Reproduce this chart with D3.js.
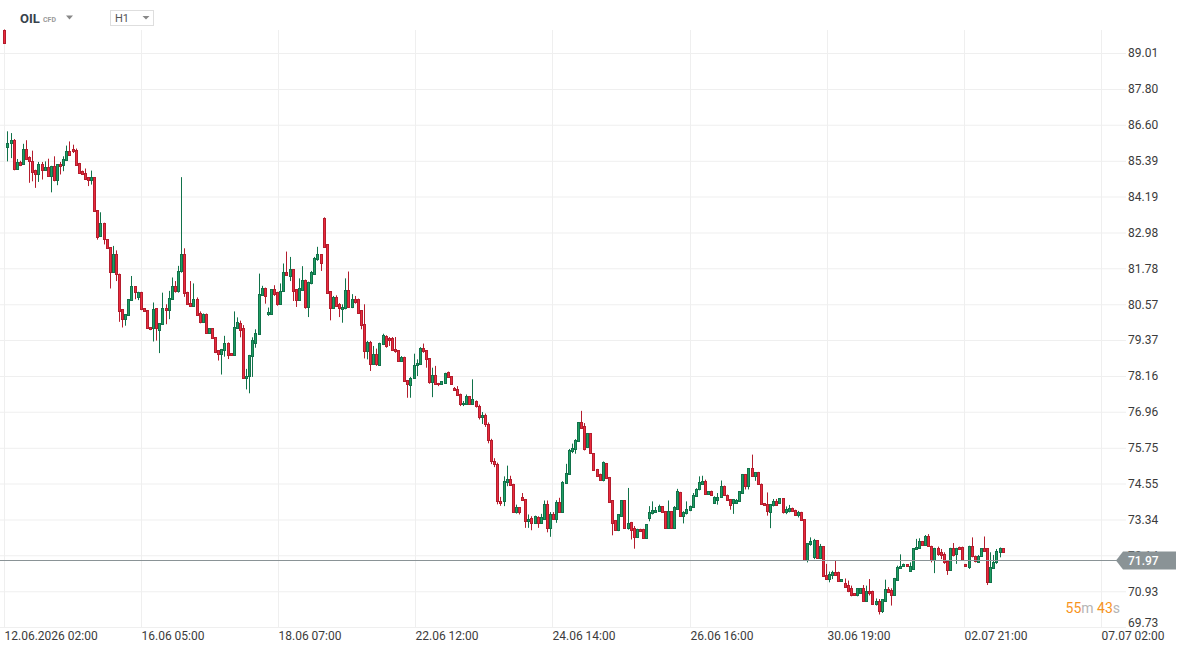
<!DOCTYPE html>
<html>
<head>
<meta charset="utf-8">
<script src="https://cdn.jsdelivr.net/npm/d3@7"></script>
<style>
  body { margin: 0; background: #fff; font-family: Roboto, "Noto Sans", sans-serif; }
  svg { display: block; }
  .grid line { stroke: #efefef; }
  .grid path { display: none; }
  .yaxis text, .xaxis text { fill: #3b3b3b; font-size: 12px; font-family: Roboto, sans-serif; }
</style>
</head>
<body>
<svg id="chart" width="1188" height="653"></svg>
<script>
// hourly OIL candles
var opens = [89.79,85.84,85.99,86.10,85.12,85.35,85.28,85.80,85.52,85.39,
85.09,84.93,85.28,85.09,85.17,84.87,85.22,84.73,85.28,85.26,
85.43,85.73,85.80,85.76,85.32,85.06,84.98,84.84,84.76,84.84,
83.72,82.86,83.29,82.75,82.49,81.67,82.25,81.60,80.41,80.07,
80.22,80.71,81.17,80.82,80.99,80.43,80.37,79.79,79.77,80.43,
79.70,79.90,80.46,80.37,80.74,81.19,81.02,81.69,82.25,80.99,
80.60,80.52,80.74,80.27,79.99,80.26,79.62,79.77,79.46,79.03,
78.90,79.03,79.27,78.92,78.87,79.77,79.93,79.77,78.08,78.15,
78.82,79.28,79.58,80.88,81.13,80.26,80.26,81.07,80.99,80.57,
81.00,81.67,81.52,81.74,81.07,80.73,81.06,81.40,80.48,81.30,
81.60,82.08,82.25,83.46,82.59,81.00,80.46,80.83,80.57,80.42,
80.46,81.06,80.49,80.76,80.74,80.37,79.90,79.00,79.31,78.57,
78.91,78.53,79.23,79.51,79.45,79.43,79.08,79.02,78.66,78.81,
78.01,77.86,78.08,78.53,78.57,79.11,79.02,78.75,77.96,78.18,
77.93,77.90,77.93,78.31,78.16,77.75,77.71,77.57,77.21,77.23,
77.49,77.23,77.32,77.15,76.80,76.85,76.55,76.00,75.30,75.20,
73.95,73.95,74.59,74.71,74.54,73.59,73.76,74.10,74.03,73.28,
73.40,73.23,73.43,73.23,73.36,73.87,73.06,73.51,73.36,73.93,
73.59,74.57,74.88,75.63,75.71,75.97,76.61,76.49,75.76,76.24,
75.57,75.04,74.88,74.66,75.24,74.77,73.99,73.31,72.98,73.47,
73.98,73.06,73.26,73.06,72.75,73.03,73.03,72.73,73.40,73.56,
73.59,73.62,73.79,73.62,73.06,73.62,73.06,73.70,74.27,73.45,
73.56,73.67,73.76,74.12,74.35,74.55,74.65,74.20,74.31,73.90,
74.01,74.10,74.48,74.18,74.03,73.88,73.88,73.95,74.23,74.87,
74.48,75.07,74.81,74.92,74.55,73.89,73.86,73.60,73.83,73.95,
73.91,74.05,73.60,73.63,73.74,73.67,73.49,73.60,73.35,71.98,
72.52,72.07,72.64,72.04,72.44,71.48,71.34,71.46,71.59,71.59,
71.26,71.20,71.14,71.03,70.87,70.79,70.87,71.03,70.62,70.95,
70.95,70.51,70.59,70.28,70.62,71.01,70.96,70.81,71.32,71.70,
71.77,71.84,71.62,71.68,72.35,72.37,72.62,72.50,72.80,72.46,
71.98,72.39,72.26,72.18,71.96,71.66,72.38,72.19,72.43,72.43,
71.85,71.76,72.46,72.13,71.92,72.10,72.37,72.37,71.25,71.70,
71.90,72.26,72.37];

var highs = [89.80,86.38,86.32,86.12,85.45,85.39,85.96,86.08,85.54,85.73,
85.09,85.35,85.35,85.37,85.46,85.22,85.54,85.28,85.35,85.54,
85.90,86.04,85.93,85.80,85.32,85.06,85.13,84.84,85.06,84.84,
83.72,83.66,83.31,82.75,82.49,82.53,82.38,81.60,80.41,80.24,
80.74,81.52,81.17,80.99,80.99,80.43,80.37,79.79,80.63,80.43,
79.93,80.96,80.57,81.02,81.47,81.35,81.86,84.84,82.45,80.99,
81.35,81.27,80.80,80.33,80.26,80.26,79.77,79.77,79.46,79.03,
79.07,79.51,79.29,78.92,80.33,80.13,80.02,79.87,78.40,78.87,
79.46,79.73,81.60,81.19,81.13,80.46,81.07,81.21,80.99,81.27,
81.94,82.34,82.16,81.74,81.07,81.44,81.85,81.40,81.33,81.69,
82.16,82.50,82.25,83.49,82.59,81.00,80.85,80.87,80.61,80.57,
81.44,81.67,80.91,80.85,80.76,80.37,80.57,79.34,79.34,79.17,
79.08,79.28,79.58,79.53,79.47,79.47,79.47,79.02,78.83,78.81,
78.01,78.13,78.91,78.72,79.13,79.25,79.02,78.75,78.44,78.50,
77.93,77.99,78.27,78.31,78.16,77.79,77.82,77.57,77.32,77.54,
77.49,78.05,77.34,77.20,76.95,76.90,76.60,76.05,75.40,75.25,
74.10,74.79,75.15,74.81,74.54,73.84,73.76,74.23,74.03,73.51,
73.45,73.47,73.45,73.53,73.98,73.98,73.59,73.59,73.99,74.07,
74.63,75.21,75.71,75.89,76.04,76.61,76.99,76.58,76.24,76.24,
75.57,75.04,74.88,75.29,75.24,74.77,73.99,73.31,73.51,73.98,
73.98,74.40,73.26,73.12,73.03,73.03,73.03,73.19,73.79,73.95,
73.76,73.84,73.79,73.62,73.98,73.62,73.79,74.37,74.27,73.62,
73.95,73.81,74.23,74.39,74.79,74.81,74.68,74.29,74.31,74.12,
74.23,74.65,74.48,74.18,74.03,74.03,74.03,74.29,74.87,74.87,
75.07,75.52,74.92,74.94,74.55,73.89,74.25,73.86,74.03,74.03,
74.05,74.05,73.78,73.83,73.74,73.67,73.63,73.60,73.35,72.54,
72.74,72.69,72.64,72.52,72.44,71.85,71.59,71.62,71.96,71.59,
71.34,71.36,71.29,71.12,70.87,71.03,71.03,71.14,71.12,71.34,
70.95,70.69,70.67,70.67,71.32,71.07,71.03,71.38,71.79,72.17,
71.86,71.84,71.90,72.37,72.69,72.71,72.62,72.82,72.85,72.46,
72.39,72.43,72.35,72.24,71.96,72.39,72.55,72.39,72.43,72.43,
71.85,72.46,72.74,72.13,72.15,72.37,72.77,72.37,72.24,72.15,
72.35,72.40,72.37];

var lows = [89.33,85.37,85.48,85.07,85.09,85.21,85.28,85.43,84.65,84.70,
84.48,84.68,84.76,85.07,84.87,84.33,84.70,84.57,84.93,85.04,
85.41,85.57,85.65,85.24,84.95,84.93,84.76,84.54,84.59,83.68,
82.74,82.86,82.58,82.45,81.10,81.63,81.35,79.98,79.79,79.85,
80.22,80.69,80.74,80.71,80.37,80.33,79.74,79.70,79.32,79.35,
78.93,79.90,79.90,80.07,80.74,80.96,80.96,81.63,80.82,80.55,
80.52,80.48,80.18,79.93,79.94,79.62,79.62,79.44,78.93,78.68,
78.21,78.81,78.73,78.87,78.84,79.74,79.46,78.06,77.71,77.58,
78.13,79.11,79.58,80.85,80.59,80.18,80.26,80.85,80.52,80.55,
81.00,81.52,81.35,80.68,80.48,80.73,81.02,80.42,80.14,81.24,
81.58,82.03,81.69,82.48,80.93,80.03,80.44,80.49,80.14,79.95,
80.40,80.46,80.44,80.59,80.26,79.73,78.75,78.72,78.33,78.55,
78.50,78.52,79.20,79.11,79.17,79.05,78.94,78.66,78.66,77.99,
77.43,77.43,78.08,78.16,78.55,78.94,78.44,77.90,77.45,77.88,
77.82,77.90,77.93,78.13,77.88,77.68,77.52,77.15,77.15,77.21,
77.21,77.21,77.10,76.70,76.55,76.45,75.90,75.20,75.10,73.85,
73.80,73.79,74.46,74.48,73.59,73.54,73.51,73.99,73.06,73.06,
72.98,73.23,73.06,73.21,73.34,72.91,72.76,73.34,73.23,73.59,
73.56,74.55,74.85,75.57,75.55,75.97,76.41,75.66,75.76,75.57,
74.99,74.81,74.66,74.62,74.70,73.93,72.81,72.98,72.95,73.45,
73.06,73.00,72.67,72.36,72.73,72.94,72.73,72.69,73.28,73.51,
73.56,73.60,73.60,73.06,73.05,73.06,73.06,73.67,73.43,73.21,
73.51,73.62,73.73,74.10,74.32,74.51,74.18,74.20,74.18,73.90,
73.84,74.07,74.15,74.01,73.67,73.53,73.88,73.95,74.21,74.35,
74.35,74.79,74.64,74.51,73.86,73.82,73.47,73.05,73.78,73.80,
73.91,73.54,73.52,73.58,73.63,73.49,73.41,73.33,71.98,71.90,
72.46,72.01,72.04,72.01,71.43,71.32,71.23,71.34,71.46,71.26,
71.26,71.06,70.90,70.76,70.79,70.76,70.87,70.62,70.61,70.79,
70.51,70.45,70.15,70.20,70.62,70.87,70.45,70.78,71.29,71.70,
71.77,71.77,71.60,71.68,72.35,72.35,72.50,72.46,72.44,71.90,
71.54,72.12,72.01,71.85,71.48,71.62,72.10,71.85,72.35,71.98,
71.76,71.68,72.07,71.90,71.90,72.10,72.29,71.14,71.25,71.70,
71.85,72.07,72.26];

var closes = [89.35,85.99,86.10,85.12,85.35,85.26,85.80,85.46,85.37,85.02,
84.93,85.28,85.09,85.17,84.87,85.22,84.73,85.28,85.22,85.46,
85.73,85.57,85.71,85.26,84.98,84.95,84.78,84.76,84.84,83.70,
82.83,83.31,82.75,82.47,81.67,82.25,81.58,80.35,80.07,80.24,
80.74,81.17,80.99,80.99,80.41,80.35,79.77,79.74,80.41,79.77,
79.93,80.46,80.37,80.77,81.19,81.02,81.69,82.25,80.96,80.57,
80.52,80.74,80.22,79.99,80.26,79.62,79.77,79.44,78.98,78.90,
79.07,79.26,78.88,78.87,79.79,79.96,79.70,78.08,78.17,78.87,
79.37,79.62,80.93,81.13,80.85,80.32,81.07,80.91,80.57,81.02,
81.67,81.56,81.74,81.02,80.73,81.10,81.40,80.48,81.33,81.67,
82.14,82.25,81.97,82.50,80.96,80.46,80.82,80.51,80.44,80.49,
81.06,80.49,80.76,80.63,80.29,79.88,79.00,79.31,78.57,78.91,
78.57,79.28,79.54,79.17,79.36,79.05,79.00,78.66,78.80,77.99,
77.88,78.10,78.53,78.61,79.11,79.00,78.72,77.97,78.18,77.90,
77.88,77.99,78.27,78.14,77.90,77.68,77.52,77.21,77.26,77.49,
77.23,77.38,77.15,76.80,76.85,76.55,76.00,75.30,75.20,73.95,
73.90,74.62,74.70,74.51,73.59,73.76,73.59,73.99,73.28,73.37,
73.23,73.45,73.23,73.43,73.87,73.06,73.51,73.36,73.93,73.59,
74.60,74.90,75.69,75.74,76.00,76.61,76.43,75.71,76.24,75.57,
74.99,74.81,74.66,75.26,74.73,73.93,73.23,72.98,73.51,73.98,
73.06,73.24,72.98,72.75,73.03,72.94,72.73,73.19,73.60,73.67,
73.65,73.79,73.60,73.06,73.62,73.06,73.76,74.29,73.45,73.60,
73.70,73.79,74.18,74.37,74.59,74.65,74.20,74.29,74.18,74.09,
74.10,74.48,74.15,74.01,73.84,74.03,74.01,74.29,74.87,74.48,
75.07,74.79,74.92,74.53,73.86,73.82,73.63,73.86,73.95,73.84,
74.05,73.60,73.71,73.73,73.63,73.49,73.58,73.33,71.98,72.54,
72.62,72.64,72.04,72.46,71.43,71.34,71.51,71.59,71.48,71.26,
71.34,71.09,70.95,70.81,70.79,71.03,71.03,70.62,70.95,70.87,
70.51,70.62,70.28,70.67,70.99,70.92,70.81,71.38,71.76,71.79,
71.86,71.77,71.77,72.37,72.43,72.62,72.50,72.77,72.46,71.98,
72.39,72.18,72.15,71.90,71.66,72.39,72.15,72.39,72.35,71.98,
71.77,72.46,72.10,71.96,72.13,72.37,72.29,71.25,71.74,71.90,
72.29,72.37,72.26];

var yTicks = [89.01, 87.80, 86.60, 85.39, 84.19, 82.98, 81.78, 80.57, 79.37,
              78.16, 76.96, 75.75, 74.55, 73.34, 72.14, 70.93, 69.73];
var xTickLabels = ["12.06.2026 02:00", "16.06 05:00", "18.06 07:00", "22.06 12:00",
                   "24.06 14:00", "26.06 16:00", "30.06 19:00", "02.07 21:00", "07.07 02:00"];
var xTickIndex = [0, 44.2, 88.4, 132.6, 176.8, 221, 265.2, 309.4, 353.6];
var lastPrice = 71.97;

var svg = d3.select("#chart");

var x = d3.scaleLinear().domain([0, opens.length - 1]).range([4.3, 1002.7]);
var y = d3.scaleLinear().domain([69.73, 89.01]).range([627, 53]);

// horizontal grid + price labels on the right
var yg = svg.append("g")
  .attr("class", "grid yaxis")
  .call(d3.axisRight(y).tickValues(yTicks).tickSize(1126).tickPadding(2)
    .tickFormat(d3.format(".2f")));
// lowest label sits a little above its line, like the original
yg.selectAll(".tick text").filter(function(d) { return d === 69.73; }).attr("y", -4);

// vertical grid + time labels
var xg = svg.append("g")
  .attr("class", "grid xaxis")
  .attr("transform", "translate(0,627)")
  .call(d3.axisBottom(x).tickValues(xTickIndex).tickSize(-597).tickPadding(4)
    .tickFormat(function(d, i) { return xTickLabels[i]; }));
xg.selectAll("text").attr("text-anchor", "start").attr("dx", 0);
xg.selectAll(".tick").attr("transform", function(d) {
  return "translate(" + (Math.round(x(d)) + 0.5) + ",0)";
});

// candles
var candles = d3.range(opens.length).map(function(i) {
  return { i: i, o: opens[i], h: highs[i], l: lows[i], c: closes[i] };
});
var upEdge = "#11724a", upFill = "#1f9e63";
var dnEdge = "#b41d2d", dnFill = "#ea2b3d";

var cg = svg.append("g").attr("class", "candles");
var cand = cg.selectAll("g").data(candles).enter().append("g");

cand.append("line")
  .attr("x1", function(d) { return Math.round(x(d.i)) + 0.5; })
  .attr("x2", function(d) { return Math.round(x(d.i)) + 0.5; })
  .attr("y1", function(d) { return y(d.h); })
  .attr("y2", function(d) { return y(d.l); })
  .attr("stroke", function(d) { return d.c >= d.o ? upEdge : dnEdge; })
  .attr("stroke-width", 1);

cand.append("rect")
  .attr("x", function(d) { return Math.round(x(d.i)) - 0.5; })
  .attr("y", function(d) { return Math.round(y(Math.max(d.o, d.c))) + 0.5; })
  .attr("width", 2)
  .attr("height", function(d) {
    return Math.max(1, Math.round(y(Math.min(d.o, d.c))) - Math.round(y(Math.max(d.o, d.c))));
  })
  .attr("fill", function(d) { return d.c >= d.o ? upFill : dnFill; })
  .attr("stroke", function(d) { return d.c >= d.o ? upEdge : dnEdge; })
  .attr("stroke-width", 1);

// last price line and tag
var py = Math.round(y(lastPrice)) + 0.5;
svg.append("line")
  .attr("x1", 0).attr("x2", 1117)
  .attr("y1", py).attr("y2", py)
  .attr("stroke", "#8a9396").attr("stroke-width", 1);
svg.append("path")
  .attr("d", "M1116," + py + "L1123," + (py - 9) + "H1176V" + (py + 9) + "H1123Z")
  .attr("fill", "#8a9396");
svg.append("text")
  .attr("x", 1128).attr("y", py + 4.5)
  .attr("fill", "#fff").attr("font-size", 12).attr("font-weight", 500)
  .text(d3.format(".2f")(lastPrice));

// candle countdown
var cd = svg.append("text")
  .attr("x", 1120).attr("y", 613)
  .attr("text-anchor", "end")
  .attr("font-size", 14);
cd.append("tspan").attr("fill", "#f7941d").text("55");
cd.append("tspan").attr("fill", "#b5b5b5").text("m ");
cd.append("tspan").attr("fill", "#f7941d").text("43");
cd.append("tspan").attr("fill", "#b5b5b5").text("s");

// header: symbol and interval
svg.append("text")
  .attr("x", 20).attr("y", 23)
  .attr("fill", "#38424c").attr("font-size", 13).attr("font-weight", 700)
  .text("OIL");
svg.append("text")
  .attr("x", 43).attr("y", 22)
  .attr("fill", "#9a9a9a").attr("font-size", 7).attr("font-weight", 700)
  .text("CFD");
svg.append("path").attr("d", "M66,15.5H73L69.5,19.5Z").attr("fill", "#888");

svg.append("rect")
  .attr("x", 110.5).attr("y", 10.5).attr("width", 43).attr("height", 15)
  .attr("fill", "#fff").attr("stroke", "#dedede");
svg.append("text")
  .attr("x", 115).attr("y", 22)
  .attr("fill", "#555").attr("font-size", 11)
  .text("H1");
svg.append("path").attr("d", "M142.5,16H149.5L146,19.5Z").attr("fill", "#888");
</script>
</body>
</html>
